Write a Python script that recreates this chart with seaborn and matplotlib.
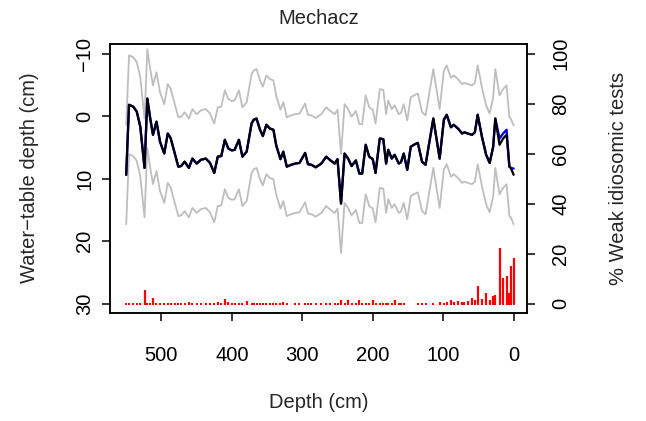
import numpy as np
import pandas as pd
import matplotlib
matplotlib.use("Agg")
import matplotlib.pyplot as plt
import seaborn as sns

# ---- data ----
depth = [550, 546, 540, 535, 530, 524, 520, 516, 512, 507,
         502, 496, 491, 487, 481, 476, 472, 467, 461, 456,
         450, 444, 437, 431, 425, 420, 415, 410, 405, 400,
         396, 390, 385, 379, 372, 369, 365, 360, 356, 351,
         346, 341, 337, 331, 327, 322, 316, 310, 304, 296,
         292, 287, 281, 273, 266, 260, 254, 250, 245, 240,
         235, 230, 224, 219, 215, 210, 205, 200, 196, 190,
         185, 181, 178, 173, 169, 163, 160, 156, 151, 146,
         140, 136, 130, 125, 114, 105, 99, 95, 89, 85,
         79, 73, 70, 65, 59, 55, 51, 45, 39, 34,
         29, 26, 20, 15, 10, 6, 4, 0]

wtd = [9.4, -1.8, -1.5, -0.7, 1.7, 8.3, -2.8, 0.3, 3.0, 0.9,
       4.1, 6.0, 2.8, 3.5, 6.0, 8.1, 8.0, 7.3, 8.3, 6.8,
       7.6, 7.0, 6.8, 7.5, 9.1, 6.5, 6.4, 3.8, 5.2, 5.5,
       5.4, 3.8, 6.5, 5.7, 1.2, 0.6, 0.4, 2.2, 3.2, 1.4,
       2.0, 2.2, 4.7, 6.9, 5.7, 8.1, 7.8, 7.6, 7.5, 5.9,
       7.7, 7.8, 8.2, 7.6, 6.5, 7.1, 7.6, 6.9, 14.0, 6.0,
       6.8, 8.0, 7.1, 9.2, 9.2, 4.6, 6.5, 6.9, 9.1, 3.6,
       3.7, 7.6, 5.4, 6.8, 6.2, 7.6, 7.4, 6.0, 8.6, 4.9,
       4.5, 4.3, 7.3, 7.8, 0.4, 6.8, 0.6, -0.2, 1.8, 1.4,
       2.0, 2.8, 2.6, 2.8, 3.0, 2.6, -0.2, 3.3, 6.2, 7.5,
       4.9, 0.4, 4.6, 3.6, 3.0, 8.1, 8.3, 9.4]

# alternative reconstruction (blue), differs only in the top samples
wtd_alt_tail = [4.9, 0.4, 3.6, 2.8, 2.2, 8.1, 8.3, 8.4]

rmsep = 7.9  # error band half-width (grey lines)

nan = float("nan")
weak_pct = [0, 0, 0, 0, 0, 5.3, 0, 0, 2.3, 0,
            0, 0, 0, 0, 0, 0, 0, 0, 0.8, 0,
            0, 0, 0, 0, 0, 0.7, 0, 1.9, 0.8, 0,
            0, 0, 0, 1.0, 0, 0, 0, 0, 0, 0,
            0, 0, 0, 0, 0.8, 0, nan, 0, 0, 0,
            0, 0, 0, 0, 0, 0, 0, 0, 1.3, 0,
            1.3, 0, 0, 1.3, 0, 0, 0, 1.3, 0, 0,
            0, 0, 0, 0, 1.6, 0, 0, 0, nan, nan,
            nan, 0, 0, 0, 0, 0.5, 0, 0.5, 1.6, 0.5,
            0.9, 0.5, 0.5, 1.2, 2.1, 1.3, 6.9, 1.9, 4.3, 1.3,
            2.9, 3.6, 22.3, 10.3, 11.2, 4.3, 15.0, 18.3]

left_ticks = [-10, 0, 10, 20, 30]
right_ticks = [0, 20, 40, 60, 80, 100]
x_ticks = [500, 400, 300, 200, 100, 0]

# ---- build table ----
wtd_alt = wtd[:len(wtd) - len(wtd_alt_tail)] + wtd_alt_tail
df = pd.DataFrame({"depth": depth, "wtd": wtd, "alt": wtd_alt, "pct": weak_pct})
df["upper"] = df["wtd"] - rmsep
df["lower"] = df["wtd"] + rmsep

sns.set_style("ticks")
plt.rcParams["font.family"] = ["Liberation Sans", "DejaVu Sans"]
FS = 14.5

W, H = 646, 421
fig = plt.figure(figsize=(W / 100, H / 100), dpi=100)
L, R, T, B = 110, 527, 43.5, 313
ax = fig.add_axes([L / W, 1 - B / H, (R - L) / W, (B - T) / H])

grey = "#BEBEBE"
sns.lineplot(data=df, x="depth", y="upper", ax=ax, color=grey, lw=1.3, estimator=None, sort=False)
sns.lineplot(data=df, x="depth", y="lower", ax=ax, color=grey, lw=1.3, estimator=None, sort=False)
sns.lineplot(data=df, x="depth", y="alt", ax=ax, color="#0000FF", lw=1.7, estimator=None, sort=False)
sns.lineplot(data=df, x="depth", y="wtd", ax=ax, color="black", lw=1.6, estimator=None, sort=False)

ax.set_xlim(573, -19)
ax.set_ylim(31.5, -11.6)
ax.set_xticks(x_ticks)
ax.set_xticklabels([str(v) for v in x_ticks])
ax.set_yticks(left_ticks)
ax.set_yticklabels([str(v).replace("-", "\u2212") for v in left_ticks],
                   rotation=90, va="center")
ax.set_xlabel("")
ax.set_ylabel("")

ax2 = ax.twinx()
ax2.set_position(ax.get_position())
m = df["pct"].notna()
ax2.vlines(df.loc[m, "depth"], 0, df.loc[m, "pct"], colors="#FF0000",
           linewidth=1.6)
# R draws zero-height stems as small dashes at the base
sns.scatterplot(x=df.loc[m, "depth"], y=df.loc[m, "pct"] * 0, ax=ax2,
                marker="s", s=3.5, color="#FF0000", linewidth=0)
ax2.set_ylim((30 - 31.5) / 0.4, (30 + 11.6) / 0.4)
ax2.set_yticks(right_ticks)
ax2.set_yticklabels([str(v) for v in right_ticks], rotation=90, va="center")
ax2.set_xlabel("")
ax2.set_ylabel("")

for a in (ax, ax2):
    for s in a.spines.values():
        s.set_visible(True)
        s.set_linewidth(1.1)
        s.set_color("black")
ax.tick_params(axis="x", length=5.5, width=1.1, labelsize=FS, pad=18, colors="black")
ax.tick_params(axis="y", length=5.5, width=1.1, labelsize=FS, pad=6, colors="black")
ax2.tick_params(axis="y", length=5.5, width=1.1, labelsize=FS, pad=12, colors="black")

fig.text(318.5 / W, 1 - 18 / H, "Mechacz", ha="center", va="center", fontsize=FS)
fig.text(318.5 / W, 1 - 403 / H, "Depth (cm)", ha="center", va="center", fontsize=FS)
fig.text(30 / W, 1 - 178 / H, "Water\u2212table depth (cm)", ha="center", va="center",
         rotation=90, fontsize=FS)
fig.text(619 / W, 1 - 178 / H, "% Weak idiosomic tests", ha="center", va="center",
         rotation=90, fontsize=FS)

fig.savefig("out.png", dpi=100)
